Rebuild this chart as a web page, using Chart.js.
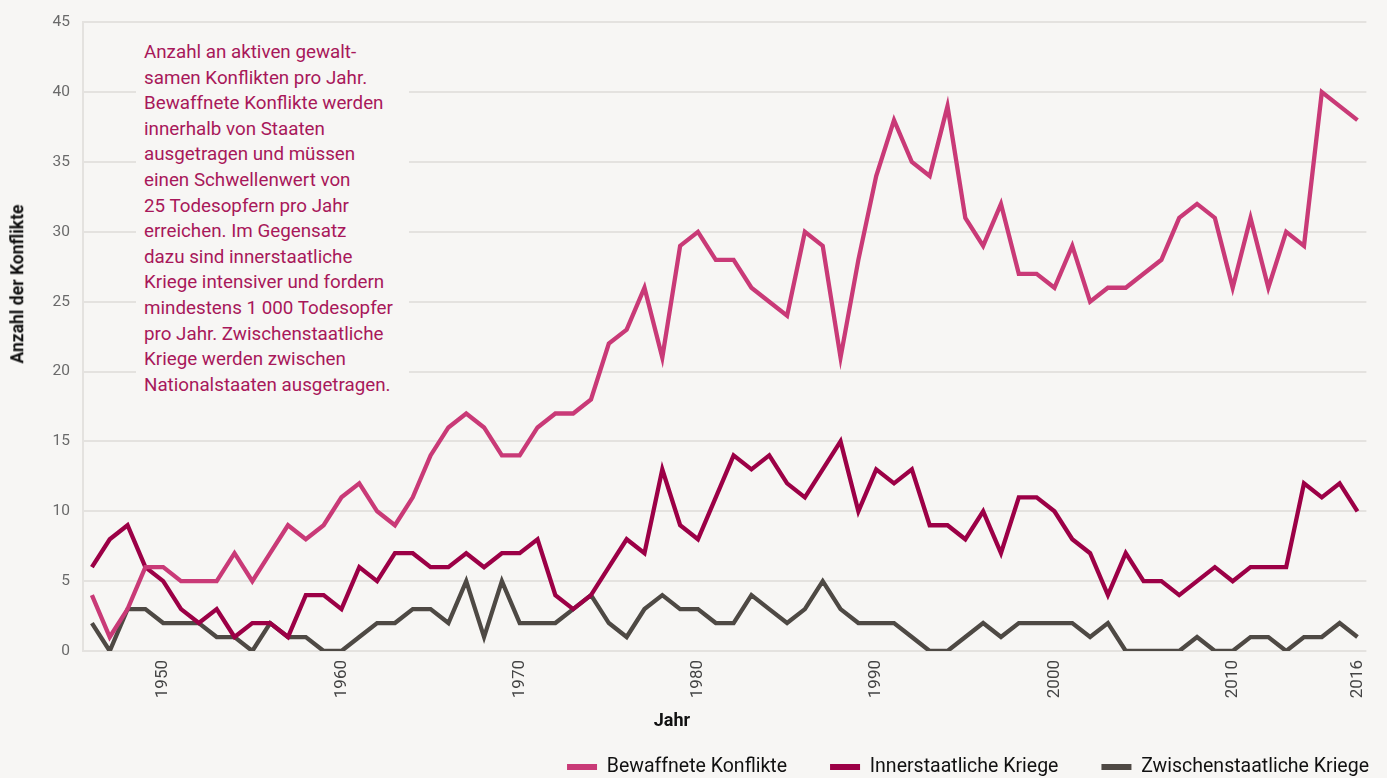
<!DOCTYPE html>
<html>
<head>
<meta charset="utf-8">
<script src="https://cdn.jsdelivr.net/npm/chart.js@4.4.1/dist/chart.umd.min.js"></script>
<style>
  html, body { margin: 0; padding: 0; background: #f7f6f4; }
  #wrap { position: relative; width: 1387px; height: 778px; overflow: hidden; }
  #note {
    position: absolute; left: 136px; top: 40px; width: 265px; height: 362px;
    padding-left: 8px; background: #f7f6f4; color: #a8185a;
    font-family: Roboto, "Liberation Sans", sans-serif; font-size: 18.8px; line-height: 25.6px;
    white-space: pre;
  }
  .axtitle {
    position: absolute; font-family: Roboto, "Liberation Sans", sans-serif;
    font-weight: bold; color: #111; white-space: nowrap; line-height: 1;
  }
  #xtitle { left: 672px; top: 720px; font-size: 18px; transform: translate(-50%, -50%); }
  #ytitle { left: 18px; top: 284px; font-size: 17.5px; transform: translate(-50%, -50%) rotate(-90deg); }
</style>
</head>
<body>
<div id="wrap">
  <canvas id="c" width="1387" height="778"></canvas>
  <div id="note">Anzahl an aktiven gewalt-
samen Konflikten pro Jahr.
Bewaffnete Konflikte werden
innerhalb von Staaten
ausgetragen und müssen
einen Schwellenwert von
25 Todesopfern pro Jahr
erreichen. Im Gegensatz
dazu sind innerstaatliche
Kriege intensiver und fordern
mindestens 1 000 Todesopfer
pro Jahr. Zwischenstaatliche
Kriege werden zwischen
Nationalstaaten ausgetragen.</div>
  <div id="xtitle" class="axtitle">Jahr</div>
  <div id="ytitle" class="axtitle">Anzahl der Konflikte</div>
</div>
<script>
const years = [1946,1947,1948,1949,1950,1951,1952,1953,1954,1955,1956,1957,1958,1959,
  1960,1961,1962,1963,1964,1965,1966,1967,1968,1969,1970,1971,1972,1973,1974,1975,1976,1977,1978,1979,
  1980,1981,1982,1983,1984,1985,1986,1987,1988,1989,1990,1991,1992,1993,1994,1995,1996,1997,1998,1999,
  2000,2001,2002,2003,2004,2005,2006,2007,2008,2009,2010,2011,2012,2013,2014,2015,2016,2017];

const bewaffneteKonflikte = [4,1,3,6,6,5,5,5,7,5,7,9,8,9,
  11,12,10,9,11,14,16,17,16,14,14,16,17,17,18,22,23,26,21,29,
  30,28,28,26,25,24,30,29,21,28,34,38,35,34,39,31,29,32,27,27,
  26,29,25,26,26,27,28,31,32,31,26,31,26,30,29,40,39,38];

const innerstaatlicheKriege = [6,8,9,6,5,3,2,3,1,2,2,1,4,4,
  3,6,5,7,7,6,6,7,6,7,7,8,4,3,4,6,8,7,13,9,
  8,11,14,13,14,12,11,13,15,10,13,12,13,9,9,8,10,7,11,11,
  10,8,7,4,7,5,5,4,5,6,5,6,6,6,12,11,12,10];

const zwischenstaatlicheKriege = [2,0,3,3,2,2,2,1,1,0,2,1,1,0,
  0,1,2,2,3,3,2,5,1,5,2,2,2,3,4,2,1,3,4,3,
  3,2,2,4,3,2,3,5,3,2,2,2,1,0,0,1,2,1,2,2,
  2,2,1,2,0,0,0,0,1,0,0,1,1,0,1,1,2,1];

// tick labels shown on the x axis and the categories they sit at
const tickLabels = ['1950','1960','1970','1980','1990','2000','2010','2016'];
const tickYears  = [1950,1960,1970,1980,1990,2000,2010,2017];

const yTicks = [0,5,10,15,20,25,30,35,40,45];

const FONT = 'Roboto, "Liberation Sans", sans-serif';
const LEGEND_PAD = 43;
const LEGEND_FONT = 19.5;

// place the legend row: text centre near the bottom, right end near the edge
const legendPlacer = {
  id: 'legendPlacer',
  afterLayout(chart) {
    const l = chart.legend;
    const dy = (767 - LEGEND_PAD - LEGEND_FONT / 2) - l.top;
    l.top += dy; l.bottom += dy;
    const dx = (1369 + LEGEND_PAD) - l.right;
    l.left += dx; l.right += dx;
  }
};

new Chart(document.getElementById('c'), {
  type: 'line',
  data: {
    labels: years,
    datasets: [
      { label: 'Bewaffnete Konflikte', data: bewaffneteKonflikte, borderColor: '#c93a77', backgroundColor: '#c93a77' },
      { label: 'Innerstaatliche Kriege', data: innerstaatlicheKriege, borderColor: '#9c0046', backgroundColor: '#9c0046' },
      { label: 'Zwischenstaatliche Kriege', data: zwischenstaatlicheKriege, borderColor: '#4e4944', backgroundColor: '#4e4944' }
    ]
  },
  plugins: [legendPlacer],
  options: {
    responsive: false,
    animation: false,
    devicePixelRatio: 1,
    elements: {
      line: { borderWidth: 4.3, tension: 0, borderJoinStyle: 'miter', borderCapStyle: 'butt' },
      point: { radius: 0, hoverRadius: 0 }
    },
    layout: { padding: { left: 6, right: 19, top: 11, bottom: 0 } },
    plugins: {
      tooltip: { enabled: false },
      legend: {
        position: 'bottom',
        align: 'end',
        labels: {
          boxWidth: 30, boxHeight: 6, padding: LEGEND_PAD,
          color: '#111', font: { family: FONT, size: LEGEND_FONT },
          generateLabels(chart) {
            const items = Chart.defaults.plugins.legend.labels.generateLabels(chart);
            items.forEach(it => { it.lineWidth = 0; });
            return items;
          }
        }
      }
    },
    scales: {
      x: {
        type: 'category',
        offset: true,
        afterFit(axis) { axis.height = 54.5; },
        grid: { display: false, drawTicks: false },
        border: { display: false },
        ticks: {
          autoSkip: false, maxRotation: 90, minRotation: 90, padding: 9,
          color: '#444', font: { family: FONT, size: 17 },
          callback: function (value, index) {
            const k = tickYears.indexOf(years[index]);
            return k >= 0 ? tickLabels[k] : null;
          }
        }
      },
      y: {
        min: 0, max: 45,
        afterFit(axis) { axis.width = 77; },
        afterBuildTicks: function (axis) { axis.ticks = yTicks.map(v => ({ value: v })); },
        grid: { color: '#e4e2df', lineWidth: 2, drawTicks: false },
        border: { display: true, color: '#e4e2df', width: 2 },
        ticks: { padding: 13, color: '#6a6a6a', font: { family: FONT, size: 15.5 } }
      }
    }
  }
});
</script>
</body>
</html>
